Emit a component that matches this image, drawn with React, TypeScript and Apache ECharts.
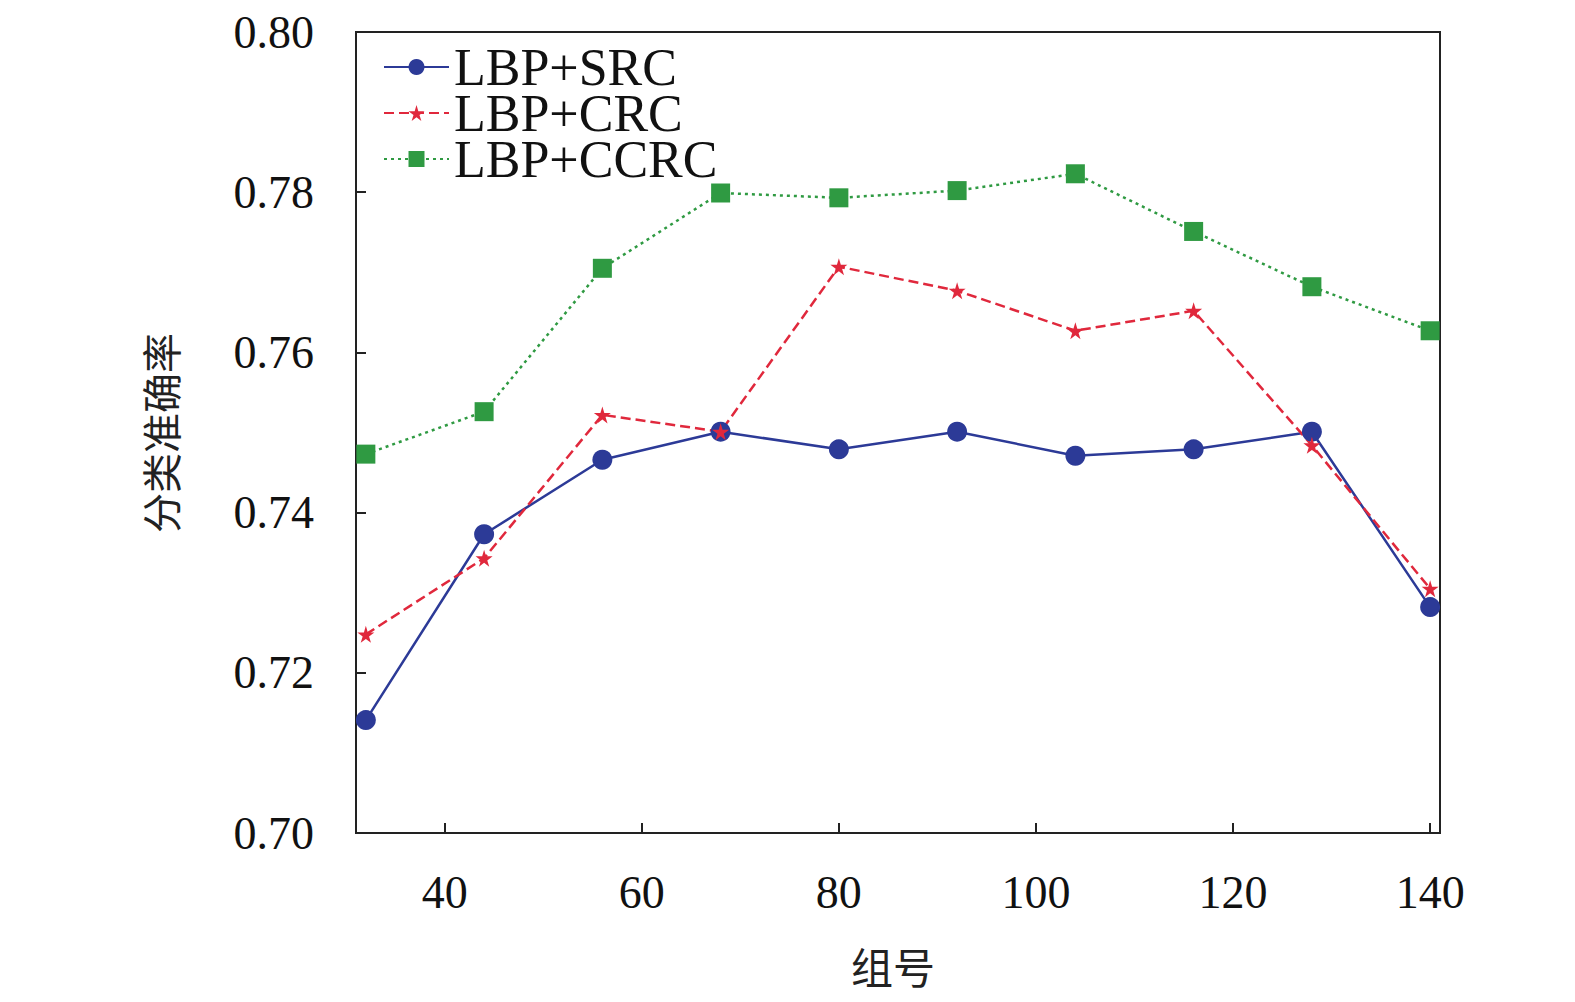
import { useEffect, useRef } from 'react'
import * as echarts from 'echarts'

const groups = [32, 44, 56, 68, 80, 92, 104, 116, 128, 140]
const srcVals = [0.7141, 0.7373, 0.7466, 0.7501, 0.7479, 0.7501, 0.7471, 0.7479, 0.7501, 0.7282]
const crcVals = [0.7248, 0.7343, 0.7522, 0.7501, 0.7707, 0.7677, 0.7627, 0.7652, 0.7484, 0.7305]
const ccrcVals = [0.7473, 0.7526, 0.7705, 0.7799, 0.7793, 0.7802, 0.7823, 0.7751, 0.7682, 0.7627]
const xCats: string[] = []
for (let v = 31; v <= 141; v++) xCats.push(String(v))

const serif = '"Liberation Serif", "Times New Roman", serif'
const cjk = '"Noto Sans CJK SC", sans-serif'

export default function App() {
  const ref = useRef<HTMLDivElement>(null)

  useEffect(() => {
    if (!ref.current) return
    const chart = echarts.init(ref.current, undefined, { renderer: 'svg' })
    const pairs = (vals: number[]) => groups.map((g, i) => [String(g), vals[i]])
    chart.setOption({
      animation: false,
      backgroundColor: '#fff',
      grid: { left: 356, right: 135, top: 32, bottom: 169, show: true, borderColor: '#222', borderWidth: 2 },
      legend: {
        orient: 'vertical',
        left: 378,
        top: 36,
        itemWidth: 65,
        itemHeight: 20,
        itemGap: -6,
        textStyle: { fontFamily: serif, fontSize: 52, color: '#111' },
        data: ['LBP+SRC', 'LBP+CRC', 'LBP+CCRC'],
      },
      xAxis: {
        type: 'category',
        data: xCats,
        boundaryGap: false,
        axisLine: { lineStyle: { color: '#222', width: 2 } },
        axisTick: { inside: true, length: 10, interval: (_i: number, v: string) => Number(v) % 20 === 0, lineStyle: { color: '#222', width: 2 } },
        axisLabel: { interval: (_i: number, v: string) => Number(v) % 20 === 0, margin: 36, fontFamily: serif, fontSize: 46, color: '#111' },
      },
      yAxis: {
        type: 'value',
        min: 0.7,
        max: 0.8,
        interval: 0.02,
        splitLine: { show: false },
        axisLine: { show: true, lineStyle: { color: '#222', width: 2 } },
        axisTick: { show: true, inside: true, length: 10, lineStyle: { color: '#222', width: 2 } },
        axisLabel: { margin: 42, fontFamily: serif, fontSize: 46, color: '#111', formatter: (v: number) => v.toFixed(2) },
      },
      graphic: [
        { type: 'text', x: 160, y: 433, rotation: Math.PI / 2, style: { text: '分类准确率', font: `40px ${cjk}`, fill: '#222', align: 'center', verticalAlign: 'middle' } },
        { type: 'text', x: 893, y: 965, style: { text: '组号', font: `42px ${cjk}`, fill: '#222', align: 'center', verticalAlign: 'middle' } },
      ],
      series: [
        {
          name: 'LBP+SRC', type: 'line', data: pairs(srcVals), symbol: 'circle', symbolSize: 20, showAllSymbol: true,
          itemStyle: { color: '#2c3a97' }, lineStyle: { color: '#2c3a97', width: 2.5 },
        },
        {
          name: 'LBP+CRC', type: 'line', data: pairs(crcVals), showAllSymbol: true,
          symbol: 'path://M50,0 L61,35 L98,35 L68,57 L79,91 L50,70 L21,91 L32,57 L2,35 L39,35 Z', symbolSize: 17,
          itemStyle: { color: '#e0283c' }, lineStyle: { color: '#e0283c', width: 2.5, type: [10, 5] },
        },
        {
          name: 'LBP+CCRC', type: 'line', data: pairs(ccrcVals), symbol: 'rect', symbolSize: 19, showAllSymbol: true,
          itemStyle: { color: '#2f9a42' }, lineStyle: { color: '#2f9a42', width: 2.5, type: [3, 4] },
        },
      ],
    })
    return () => chart.dispose()
  }, [])

  return <div ref={ref} style={{ position: 'absolute', left: 0, top: 0, width: 1575, height: 1002 }} />
}
